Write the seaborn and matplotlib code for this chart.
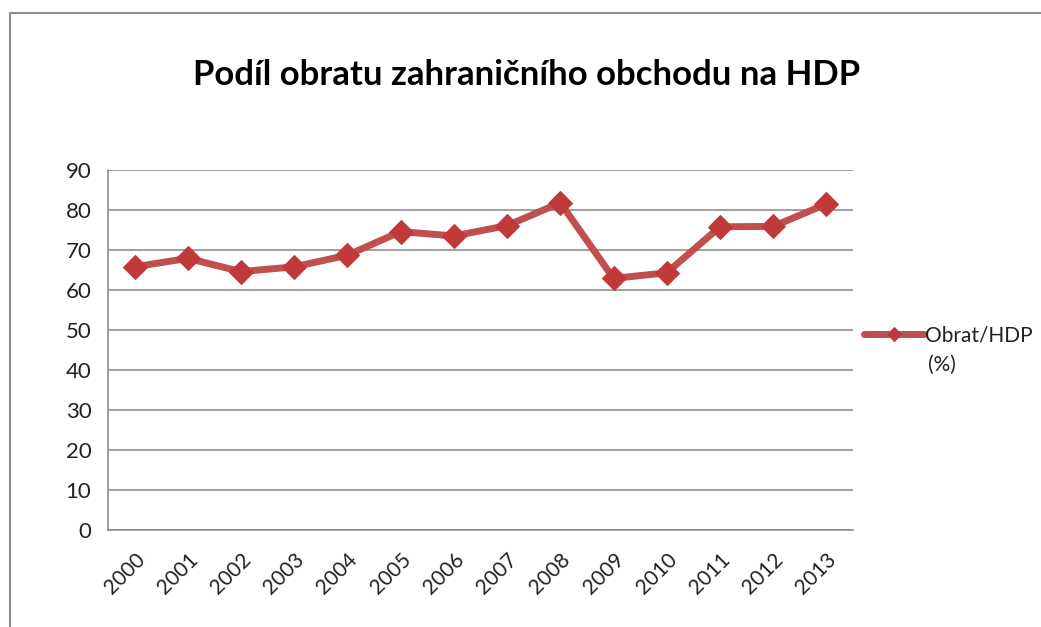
import numpy as np
import pandas as pd
import matplotlib
matplotlib.use("Agg")
import matplotlib.pyplot as plt
from matplotlib.lines import Line2D
import seaborn as sns

years = ["2000", "2001", "2002", "2003", "2004", "2005", "2006",
         "2007", "2008", "2009", "2010", "2011", "2012", "2013"]
obrat_hdp = [65.8, 67.9, 64.6, 65.8, 68.7, 74.6, 73.5,
             76.1, 81.8, 62.9, 64.3, 75.8, 75.9, 81.5]
y_ticks = [0, 10, 20, 30, 40, 50, 60, 70, 80, 90]
title = "Podíl obratu zahraničního obchodu na HDP"
series_label = "Obrat/HDP"
series_unit = "(%)"

sns.set_style("white")
plt.rcParams["font.family"] = ["Lato", "DejaVu Sans"]

df = pd.DataFrame({"rok": years, "hodnota": obrat_hdp})

fig = plt.figure(figsize=(10.41, 6.27), dpi=100)
ax = fig.add_axes([108 / 1041, 1 - 530 / 627, (853 - 108) / 1041, (530 - 170) / 627])

line_col = "#C0504D"
marker_col = "#C0393B"
grey = "#868686"

sns.lineplot(data=df, x="rok", y="hodnota", ax=ax, color=line_col, linewidth=5,
             marker="D", markersize=12, markerfacecolor=marker_col,
             markeredgecolor=marker_col, label=series_label, sort=False)

ax.set_xlim(-0.5, len(years) - 0.5)
ax.set_ylim(0, 90)
ax.set_yticks(y_ticks)
ax.set_yticklabels([str(v) for v in y_ticks], fontsize=16, color="#222222")
ax.set_xticks(range(len(years)))
ax.set_xticklabels(years, rotation=45, ha="right", va="top", rotation_mode="anchor",
                   fontsize=15, color="#222222")
ax.set_xticks(np.arange(-0.5, len(years)), minor=True)
ax.tick_params(axis="x", which="major", length=0, pad=14)
ax.tick_params(axis="x", which="minor", length=6, color=grey, width=1, direction="out")
ax.tick_params(axis="y", which="major", length=6, color=grey, width=1, direction="out", pad=6)
ax.set_xlabel("")
ax.set_ylabel("")

ax.yaxis.grid(True, color=grey, linewidth=1.1)
ax.xaxis.grid(False)
ax.set_axisbelow(True)
for side in ["top", "right"]:
    ax.spines[side].set_visible(False)
for side in ["left", "bottom"]:
    ax.spines[side].set_color(grey)
    ax.spines[side].set_linewidth(1.1)

leg = ax.legend(loc="center left", bbox_to_anchor=(864 / 1041, 1 - 335 / 627),
                bbox_transform=fig.transFigure, frameon=False, fontsize=15,
                handlelength=2.9, handletextpad=0.05, borderaxespad=0, borderpad=0,
                markerscale=0.6)
fig.text(928 / 1041, 1 - 365 / 627, series_unit, ha="left", va="center",
         fontsize=15, color="#222222")
for t in leg.get_texts():
    t.set_color("#222222")

fig.text(527 / 1041, 1 - 75 / 627, title, ha="center", va="center",
         fontsize=25, fontweight="bold", color="black")

# chart border (Excel chart area frame)
fig.add_artist(Line2D([10 / 1041, 10 / 1041], [0, 1 - 13 / 627], transform=fig.transFigure,
                      color="#8c8c8c", linewidth=1.5))
fig.add_artist(Line2D([10 / 1041, 1], [1 - 13 / 627, 1 - 13 / 627], transform=fig.transFigure,
                      color="#8c8c8c", linewidth=1.5))

fig.savefig("out.png", dpi=100)
